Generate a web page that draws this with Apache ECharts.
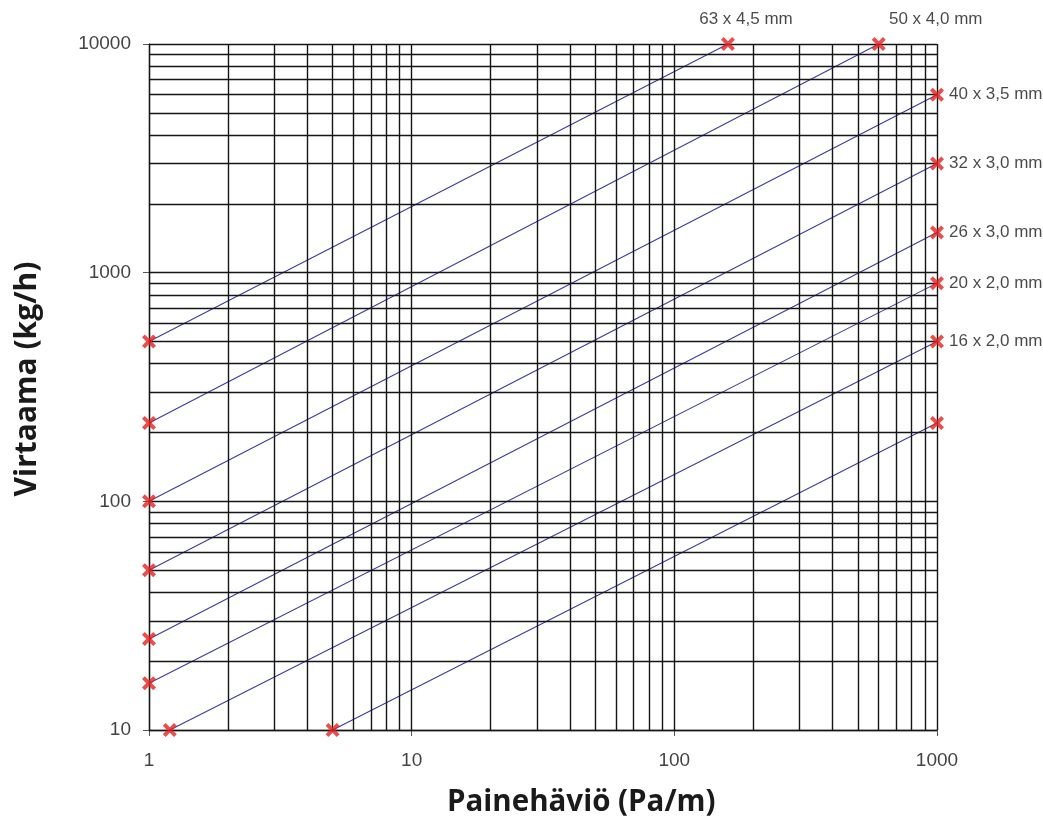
<!DOCTYPE html>
<html>
<head>
<meta charset="utf-8">
<script src="https://cdn.jsdelivr.net/npm/echarts@6/dist/echarts.min.js"></script>
<style>html,body{margin:0;padding:0;background:#fff}#c{width:1043px;height:819px}</style>
</head>
<body>
<div id="c"></div>
<script>
// ---- data ----
const pipeNames = ['63 x 4,5 mm', '50 x 4,0 mm', '40 x 3,5 mm', '32 x 3,0 mm', '26 x 3,0 mm', '20 x 2,0 mm', '16 x 2,0 mm', ''];
const startX = [1, 1, 1, 1, 1, 1, 1.2, 5];
const startY = [500, 220, 100, 50, 25, 16, 10, 10];
const endX = [160, 600, 1000, 1000, 1000, 1000, 1000, 1000];
const endY = [10000, 10000, 6000, 3000, 1500, 900, 500, 220];
const xGridValues = [1,2,3,4,5,6,7,8,9,10,20,30,40,50,60,70,80,90,100,200,300,400,500,600,700,800,900,1000];
const yGridValues = [10,20,30,40,50,60,70,80,90,100,200,300,400,500,600,700,800,900,1000,2000,3000,4000,5000,6000,7000,8000,9000,10000];
const xTickLabels = ['1', '10', '100', '1000'];
const yTickLabels = ['10', '100', '1000', '10000'];
const xTitle = 'Painehäviö (Pa/m)';
const yTitle = 'Virtaama (kg/h)';

const chart = echarts.init(document.getElementById('c'), null, {renderer: 'canvas'});
const crossPath = 'path://M0,2 L2,0 L5,3 L8,0 L10,2 L7,5 L10,8 L8,10 L5,7 L2,10 L0,8 L3,5 Z';
const lineColor = '#3b3b98';
const markerColor = '#e5221f';

const series = [];
// grid lines
series.push({
  type: 'line', data: [], silent: true, z: 1,
  markLine: {
    silent: true, symbol: ['none', 'none'], animation: false,
    label: {show: false},
    lineStyle: {color: '#151515', width: 1.4, type: 'solid'},
    data: xGridValues.map(v => ({xAxis: v})).concat(yGridValues.map(v => ({yAxis: v})))
  }
});
// pipe lines
for (let i = 0; i < startX.length; i++) {
  series.push({
    type: 'line', z: 3, symbol: 'none', silent: true, animation: false,
    lineStyle: {color: lineColor, width: 1.1},
    data: [[startX[i], startY[i]], [endX[i], endY[i]]]
  });
}
// markers
const markerData = [];
for (let i = 0; i < startX.length; i++) {
  markerData.push({value: [startX[i], startY[i]]});
  const item = {value: [endX[i], endY[i]]};
  if (pipeNames[i]) {
    if (endY[i] >= 10000) {
      item.label = {show: true, formatter: pipeNames[i], position: 'top', distance: 9,
        offset: [i === 0 ? 18 : 57, 0]};
    } else {
      item.label = {show: true, formatter: pipeNames[i], position: 'right', distance: 5};
    }
  }
  markerData.push(item);
}
series.push({
  type: 'scatter', z: 5, symbol: crossPath, symbolSize: 14, animation: false,
  itemStyle: {color: markerColor},
  label: {show: false, color: '#1a1a1a', fontFamily: 'Liberation Sans, Arial, sans-serif', fontSize: 17},
  data: markerData
});

const axisLabelFont = {color: '#444', fontFamily: 'Liberation Sans, Arial, sans-serif', fontSize: 19};

chart.setOption({
  animation: false,
  backgroundColor: '#fff',
  grid: {left: 149, right: 106, top: 44, bottom: 89, containLabel: false},
  xAxis: {
    type: 'log', logBase: 10, min: 1, max: 1000,
    axisLine: {show: true, lineStyle: {color: '#555', width: 1.3}},
    axisTick: {show: true, inside: false, length: 6, lineStyle: {color: '#555'}},
    splitLine: {show: false},
    axisLabel: Object.assign({margin: 21, formatter: (v) => xTickLabels[Math.round(Math.log10(v))]}, axisLabelFont)
  },
  yAxis: {
    type: 'log', logBase: 10, min: 10, max: 10000,
    axisLine: {show: true, lineStyle: {color: '#555', width: 1.3}},
    axisTick: {show: true, inside: false, length: 6, lineStyle: {color: '#555'}},
    splitLine: {show: false},
    axisLabel: Object.assign({margin: 18, formatter: (v) => yTickLabels[Math.round(Math.log10(v)) - 1]}, axisLabelFont)
  },
  graphic: [
    {type: 'text', left: 447, top: 788, style: {text: xTitle, font: 'bold 29.5px "Open Sans", "Noto Sans", sans-serif', fill: '#1a1a1a'}},
    {type: 'text', x: 27, y: 379, rotation: Math.PI / 2, style: {text: yTitle, font: 'bold 30px "Open Sans", "Noto Sans", sans-serif', fill: '#1a1a1a', align: 'center', verticalAlign: 'middle'}}
  ],
  series: series
});
</script>
</body>
</html>
